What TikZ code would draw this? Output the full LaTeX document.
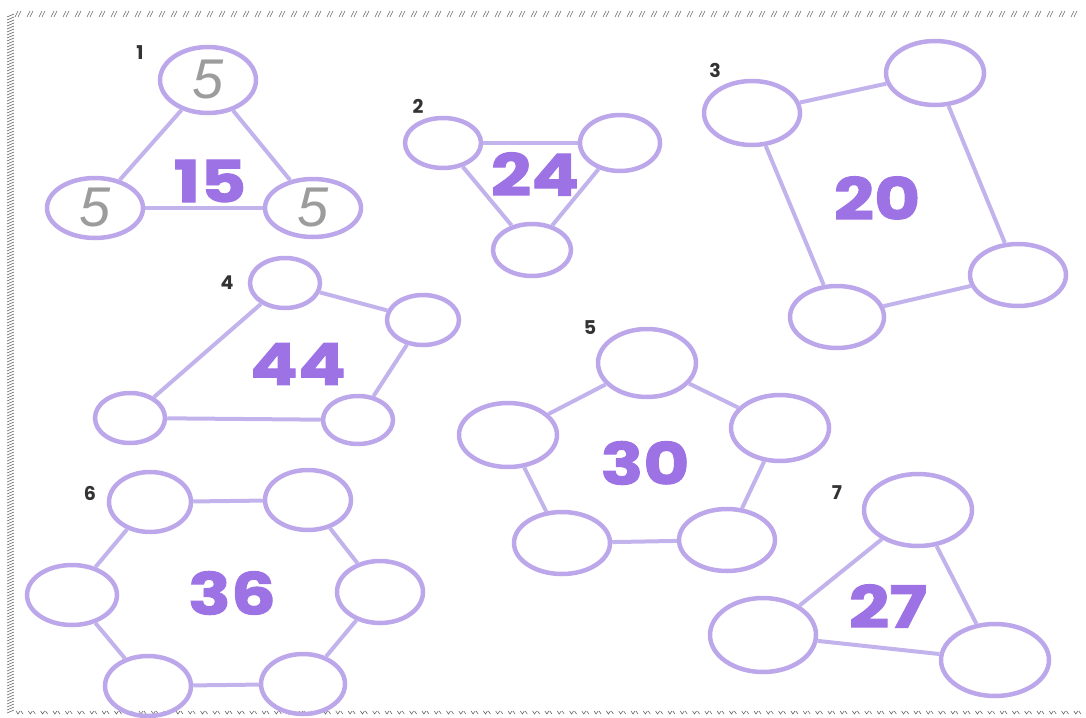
\documentclass[tikz,border=0pt]{standalone}
\usepackage{fontspec}
\setmainfont{Poppins}
\newfontfamily\numfont{Poppins}
\newfontfamily\widefont{Poppins}[FakeStretch=1.22, BoldFeatures={FakeBold=1.6}]
\newfontfamily\handfont{Liberation Sans}
\usetikzlibrary{shapes.geometric}
\definecolor{ringc}{HTML}{BCA7EA}
\definecolor{linkc}{HTML}{C3B3EC}
\definecolor{numc}{HTML}{9D72E4}
\definecolor{labc}{HTML}{333333}
\definecolor{fivec}{HTML}{9C9C9C}
\definecolor{borderc}{HTML}{666666}
\tikzset{
  ring/.style 2 args={ellipse, draw=ringc, line width=4.5pt, inner sep=0pt,
    minimum width=#1pt, minimum height=#2pt},
  link/.style={draw=linkc, line width=4pt},
  total/.style={font=\widefont\fontsize{58}{58}\selectfont\bfseries, text=numc},
  tag/.style={font=\numfont\fontsize{19}{19}\selectfont\bfseries, text=labc},
  given/.style={font=\handfont\fontsize{56}{56}\selectfont\itshape, text=fivec}
}
\begin{document}
\begin{tikzpicture}[x=1pt,y=-1pt]
\useasboundingbox (0,0) rectangle (1086,717);

% border
\foreach \i in {0,...,88} {
  \draw[borderc, line width=0.6pt] ({15+12*\i},17) -- ++(3,-6);
  \draw[borderc, line width=0.6pt] ({18+12*\i},17) -- ++(3,-6);
}
\foreach \k in {0,...,232}
  \draw[borderc, line width=0.6pt] (7,{17+3*\k}) -- (14,{14+3*\k});
\foreach \i in {0,...,86}
  \draw[borderc, line width=0.6pt] ({16+12.3*\i},711) -- ++(2,3) -- ++(2,-3) ++(1,0) -- ++(2,3);

% 1
\node[ring={96}{66}, given] (p1a) at (208,80) {5};
\node[ring={96}{60}, given] (p1b) at (95,208) {5};
\node[ring={96}{58}, given] (p1c) at (313,208) {5};
\draw[link] (p1a) -- (p1b);
\draw[link] (p1a) -- (p1c);
\draw[link] (p1b) -- (p1c);
\node[total] (s1) at (210,181) {15};
\node[tag] (t1) at (140,53) {1};

% 2
\node[ring={76}{50}] (p2a) at (443,143) {};
\node[ring={80}{56}] (p2b) at (620,143) {};
\node[ring={78}{52}] (p2c) at (532,250) {};
\draw[link] (p2a) -- (p2b);
\draw[link] (p2a) -- (p2c);
\draw[link] (p2b) -- (p2c);
\node[total] (s2) at (535,174) {24};
\node[tag] (t2) at (418,106) {2};

% 3
\node[ring={96}{64}] (p3a) at (752,113) {};
\node[ring={98}{64}] (p3b) at (935,73) {};
\node[ring={96}{62}] (p3c) at (1018,275) {};
\node[ring={94}{62}] (p3d) at (837,317) {};
\draw[link] (p3a) -- (p3b);
\draw[link] (p3b) -- (p3c);
\draw[link] (p3c) -- (p3d);
\draw[link] (p3d) -- (p3a);
\node[total] (s3) at (877,198) {20};
\node[tag] (t3) at (715,70) {3};

% 4
\node[ring={70}{50}] (p4a) at (285,283) {};
\node[ring={72}{50}] (p4b) at (423,320) {};
\node[ring={70}{48}] (p4c) at (358,420) {};
\node[ring={70}{50}] (p4d) at (130,418) {};
\draw[link] (p4a) -- (p4b);
\draw[link] (p4b) -- (p4c);
\draw[link] (p4c) -- (p4d);
\draw[link] (p4d) -- (p4a);
\node[total] (s4) at (298,364) {44};
\node[tag] (t4) at (227,283) {4};

% 5
\node[ring={98}{68}] (p5a) at (647,363) {};
\node[ring={98}{66}] (p5b) at (780,428) {};
\node[ring={96}{62}] (p5c) at (727,540) {};
\node[ring={96}{62}] (p5d) at (562,543) {};
\node[ring={98}{64}] (p5e) at (508,435) {};
\draw[link] (p5a) -- (p5b);
\draw[link] (p5b) -- (p5c);
\draw[link] (p5c) -- (p5d);
\draw[link] (p5d) -- (p5e);
\draw[link] (p5e) -- (p5a);
\node[total] (s5) at (645,463) {30};
\node[tag] (t5) at (590,328) {5};

% 6
\node[ring={82}{60}] (p6a) at (150,502) {};
\node[ring={86}{60}] (p6b) at (308,500) {};
\node[ring={86}{62}] (p6c) at (380,592) {};
\node[ring={84}{60}] (p6d) at (303,684) {};
\node[ring={86}{60}] (p6e) at (148,686) {};
\node[ring={90}{60}] (p6f) at (72,595) {};
\draw[link] (p6a) -- (p6b);
\draw[link] (p6b) -- (p6c);
\draw[link] (p6c) -- (p6d);
\draw[link] (p6d) -- (p6e);
\draw[link] (p6e) -- (p6f);
\draw[link] (p6f) -- (p6a);
\node[total] (s6) at (232,593) {36};
\node[tag] (t6) at (90,493) {6};

% 7
\node[ring={108}{72}] (p7a) at (918,510) {};
\node[ring={106}{74}] (p7b) at (763,635) {};
\node[ring={108}{72}] (p7c) at (995,660) {};
\draw[link] (p7a) -- (p7b);
\draw[link] (p7b) -- (p7c);
\draw[link] (p7c) -- (p7a);
\node[total] (s7) at (888,606) {27};
\node[tag] (t7) at (837,493) {7};
\end{tikzpicture}
\end{document}
